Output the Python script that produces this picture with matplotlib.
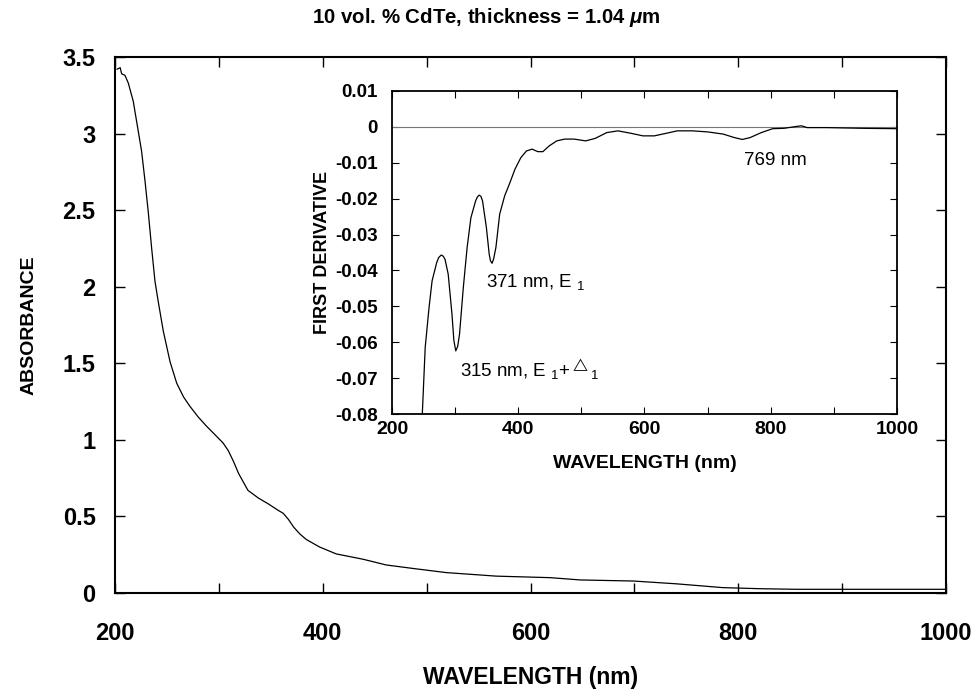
import matplotlib as mpl
import matplotlib.pyplot as plt
from matplotlib.ticker import MultipleLocator, FormatStrFormatter

# Absorbance spectrum
wl_abs = [202, 205, 206.4, 209.6, 212.8, 217.6, 222.4, 225.6, 228.9, 232,
          235.3, 238.5, 241.7, 246.5, 253, 259.4, 266, 272, 280, 288, 296,
          304, 309, 314, 319, 328, 338, 348, 357, 362, 367, 372, 378, 384,
          397, 413, 439, 461, 487, 519, 567, 619, 648, 699, 740, 785, 820,
          856, 1000]
absorbance = [3.42, 3.43, 3.39, 3.38, 3.33, 3.21, 3.015, 2.885, 2.69, 2.49,
              2.25, 2.035, 1.90, 1.71, 1.51, 1.37, 1.28, 1.22, 1.15, 1.09,
              1.035, 0.98, 0.93, 0.86, 0.78, 0.67, 0.62, 0.58, 0.54, 0.52,
              0.48, 0.43, 0.385, 0.35, 0.30, 0.255, 0.22, 0.183, 0.16, 0.133,
              0.11, 0.10, 0.085, 0.078, 0.06, 0.035, 0.028, 0.024, 0.024]

# First derivative (inset)
wl_der = [248, 252.6, 258.7, 263.5, 270.8, 274, 278, 281, 284, 289, 295, 298,
          301, 304, 307, 313, 319, 325, 332.5, 335, 338, 341, 343.4, 349.5,
          354, 356, 358.5, 361, 364.6, 370.6, 378.5, 385.8, 394.8, 404, 413,
          422, 431, 439, 449, 461, 473.5, 488.6, 506.8, 522, 540, 558, 579,
          597.5, 615.7, 634, 652, 676, 700, 724.6, 742.8, 755, 767, 785, 803,
          821, 839.6, 848.7, 857.8, 888, 948, 1000]
derivative = [-0.08, -0.0614, -0.0503, -0.0429, -0.0378, -0.0364, -0.0357,
              -0.036, -0.0369, -0.041, -0.0522, -0.0595, -0.0624, -0.0612,
              -0.0577, -0.0447, -0.0336, -0.0253, -0.0206, -0.0196, -0.019,
              -0.0194, -0.0206, -0.028, -0.0355, -0.0373, -0.038, -0.0368,
              -0.0336, -0.0243, -0.0192, -0.016, -0.0118, -0.0086, -0.0067,
              -0.0062, -0.0069, -0.0069, -0.0053, -0.0039, -0.0034, -0.0034,
              -0.0039, -0.0032, -0.0016, -0.0011, -0.0018, -0.0025, -0.0025,
              -0.0018, -0.0011, -0.0011, -0.0014, -0.002, -0.003, -0.0035,
              -0.003, -0.0016, -0.0005, -0.0004, 0.0001, 0.0003, -0.0002,
              -0.0002, -0.0004, -0.0005]

plt.rcParams["font.family"] = ["Liberation Sans", "DejaVu Sans"]
plt.rcParams["axes.unicode_minus"] = False
plt.rcParams["mathtext.fontset"] = "custom"
plt.rcParams["mathtext.rm"] = "Liberation Sans"
plt.rcParams["mathtext.it"] = "Liberation Sans:italic:bold"
plt.rcParams["mathtext.bf"] = "Liberation Sans:bold"

fig = plt.figure(figsize=(9.72, 6.92), dpi=100)

#############
# Main axes #
#############
ax = fig.add_axes([0.1183, 0.1431, 0.855, 0.7746])
ax.plot(wl_abs, absorbance, color="black", lw=0.9)
ax.set_xlim(200, 1000)
ax.set_ylim(0, 3.5)
ax.xaxis.set_major_locator(MultipleLocator(200))
ax.xaxis.set_minor_locator(MultipleLocator(100))
ax.yaxis.set_major_locator(MultipleLocator(0.5))
ax.yaxis.set_major_formatter(FormatStrFormatter("%g"))
ax.tick_params(which="both", direction="in", top=True, right=True, width=1, length=7)
ax.tick_params(axis="x", pad=21, labelsize=17)
ax.tick_params(axis="y", pad=14, labelsize=17)
for lbl in ax.get_xticklabels() + ax.get_yticklabels():
    lbl.set_fontweight("bold")
for s in ax.spines.values():
    s.set_linewidth(1.5)
ax.set_xlabel("WAVELENGTH (nm)", fontsize=16.5, fontweight="bold", labelpad=15)
ax.set_ylabel("ABSORBANCE", fontsize=14, fontweight="bold", labelpad=18)
fig.text(0.5, 0.974, r"10 vol. % CdTe, thickness = 1.04 $\mu$m",
         ha="center", va="center", fontsize=14.7, fontweight="bold")

#########
# Inset #
#########
ins = fig.add_axes([0.4033, 0.4017, 0.5195, 0.4668])
ins.axhline(0, color="#777777", lw=0.8)
ins.plot(wl_der, derivative, color="black", lw=0.9)
ins.set_xlim(200, 1000)
ins.set_ylim(-0.08, 0.01)
ins.xaxis.set_major_locator(MultipleLocator(200))
ins.xaxis.set_minor_locator(MultipleLocator(100))
ins.yaxis.set_major_locator(MultipleLocator(0.01))
ins.yaxis.set_major_formatter(FormatStrFormatter("%g"))
ins.tick_params(which="both", direction="in", top=True, right=True, length=5, width=0.8)
ins.tick_params(axis="x", pad=5, labelsize=14)
ins.tick_params(axis="y", pad=10, labelsize=13.5)
for lbl in ins.get_xticklabels() + ins.get_yticklabels():
    lbl.set_fontweight("bold")
for s in ins.spines.values():
    s.set_linewidth(1.3)
ins.set_xlabel("WAVELENGTH (nm)", fontsize=14, fontweight="bold", labelpad=12)
ins.set_ylabel("FIRST DERIVATIVE", fontsize=13, fontweight="bold", labelpad=3)

ins.text(758, -0.0095, "769 nm", fontsize=13.5, va="center")
ins.text(349, -0.0433, r"371 nm, E $_{\rm 1}$", fontsize=13.5, va="center")
ins.text(307, -0.0675, r"315 nm, E $_{\rm 1}$+$^{\triangle}$$_{\rm 1}$",
         fontsize=13.5, va="center")

fig.savefig("out.png", dpi=100)
